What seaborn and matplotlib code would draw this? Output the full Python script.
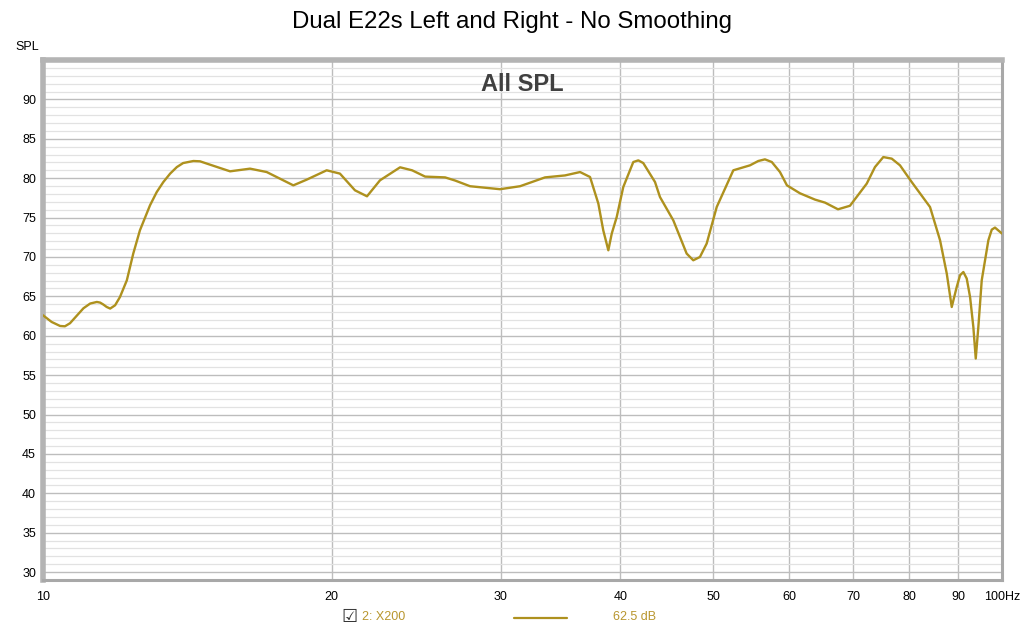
import numpy as np
import pandas as pd
import matplotlib
matplotlib.use("Agg")
import matplotlib.pyplot as plt
from matplotlib.lines import Line2D
from matplotlib.ticker import FixedLocator, MultipleLocator
import seaborn as sns

# ---- data ----
freq_hz = [10.0, 10.21, 10.42, 10.54, 10.67, 11.02, 11.20, 11.38, 11.47, 11.56,
           11.65, 11.75, 11.89, 12.03, 12.23, 12.42, 12.62, 12.93, 13.14, 13.35,
           13.57, 13.79, 14.00, 14.35, 14.58, 14.82, 15.67, 16.44, 17.11, 18.24,
           18.84, 19.76, 20.40, 21.15, 21.77, 22.46, 23.57, 24.26, 25.03, 26.26,
           26.90, 27.88, 29.96, 31.44, 33.38, 35.02, 36.31, 37.19, 37.94, 38.39,
           38.86, 39.18, 39.65, 40.28, 41.26, 41.76, 42.26, 43.47, 43.99, 45.42,
           46.90, 47.65, 48.42, 49.21, 50.41, 52.46, 54.60, 55.70, 56.60, 57.54,
           58.68, 59.67, 61.57, 63.83, 65.38, 67.45, 69.42, 72.27, 73.71, 75.20,
           76.74, 78.28, 80.51, 84.13, 86.18, 87.58, 88.63, 89.70, 90.42, 91.14,
           91.88, 92.62, 93.35, 93.89, 94.48, 95.25, 96.78, 97.57, 98.33, 100.0]
spl_db = [62.6, 61.75, 61.24, 61.2, 61.59, 63.49, 64.09, 64.29, 64.21, 63.96,
          63.66, 63.45, 63.87, 64.92, 67.04, 70.43, 73.38, 76.56, 78.24, 79.51,
          80.58, 81.41, 81.92, 82.18, 82.14, 81.85, 80.87, 81.21, 80.78, 79.09,
          79.82, 81.0, 80.58, 78.46, 77.70, 79.73, 81.38, 81.0, 80.2, 80.1,
          79.7, 78.98, 78.6, 78.98, 80.1, 80.35, 80.78, 80.15, 76.77, 73.38,
          70.85, 72.97, 75.07, 78.88, 82.05, 82.26, 81.92, 79.51, 77.61, 74.65,
          70.43, 69.58, 70.0, 71.70, 76.34, 81.0, 81.63, 82.18, 82.39, 82.05,
          80.78, 79.09, 78.08, 77.28, 76.9, 76.05, 76.5, 79.31, 81.41, 82.68,
          82.48, 81.63, 79.51, 76.34, 72.12, 67.89, 63.65, 66.19, 67.68, 68.09,
          67.26, 64.92, 61.12, 57.11, 61.12, 67.04, 72.12, 73.47, 73.73, 72.97]

x_ticks = [10, 20, 30, 40, 50, 60, 70, 80, 90, 100]
x_tick_labels = ["10", "20", "30", "40", "50", "60", "70", "80", "90", "100Hz"]
y_ticks = [30, 35, 40, 45, 50, 55, 60, 65, 70, 75, 80, 85, 90]

title = "Dual E22s Left and Right - No Smoothing"
inner_title = "All SPL"
series_name = "2: X200"
series_value = "62.5 dB"

LINE_COLOR = "#AE911E"
TEXT_COLOR = "#B8962E"

sns.set_theme(style="white")
plt.rcParams["font.family"] = ["Liberation Sans", "DejaVu Sans"]

fig = plt.figure(figsize=(10.24, 6.32), dpi=100)
ax = fig.add_axes([43 / 1024, 1 - 580 / 632, (1002 - 43) / 1024, (580 - 60) / 632])

df = pd.DataFrame({"freq": freq_hz, "spl": spl_db})
sns.lineplot(data=df, x="freq", y="spl", ax=ax, color=LINE_COLOR, linewidth=1.7,
             estimator=None, sort=True, zorder=5)
for ln in ax.get_lines():
    ln.set_solid_joinstyle("round")
    ln.set_solid_capstyle("round")

ax.set_xscale("log")
ax.set_xlim(10, 100)
ax.set_ylim(29, 95)

# gridlines
ax.yaxis.set_major_locator(FixedLocator(y_ticks))
ax.yaxis.set_minor_locator(MultipleLocator(1))
ax.xaxis.set_major_locator(FixedLocator(x_ticks))
ax.xaxis.set_minor_locator(FixedLocator([]))
ax.set_xticklabels(x_tick_labels)
ax.grid(which="major", axis="both", color="#bdbdbd", linewidth=1.0)
ax.grid(which="minor", axis="y", color="#e2e2e2", linewidth=0.9)
ax.set_axisbelow(True)

ax.tick_params(axis="both", which="both", length=0, labelsize=9, colors="#000000")
ax.tick_params(axis="x", pad=8)
ax.tick_params(axis="y", pad=5)
ax.set_xlabel("")
ax.set_ylabel("")

# frame
for side, lw, col in [("left", 4, "#b4b4b4"), ("top", 4, "#b4b4b4"),
                      ("right", 2.2, "#a8a8a8"), ("bottom", 2.2, "#a8a8a8")]:
    ax.spines[side].set_visible(True)
    ax.spines[side].set_linewidth(lw)
    ax.spines[side].set_color(col)

ax.text(0.5, 0.975, inner_title, transform=ax.transAxes, ha="center", va="top",
        fontsize=17, fontweight="bold", color="#404040", zorder=6)

fig.text(0.5, 1 - 22 / 632, title, ha="center", va="center", fontsize=17.3, color="#000000")
fig.text(27 / 1024, 1 - 47 / 632, "SPL", ha="center", va="center", fontsize=9, color="#000000")

# legend row at bottom
fig.text(349 / 1024, 1 - 617 / 632, "\u2611", ha="center", va="center", fontsize=13,
         color="#303030", family=["DejaVu Sans"])
fig.text(362 / 1024, 1 - 617 / 632, series_name, ha="left", va="center", fontsize=9,
         color=TEXT_COLOR)
fig.add_artist(Line2D([514 / 1024, 567 / 1024], [1 - 618 / 632, 1 - 618 / 632],
                      transform=fig.transFigure, color=LINE_COLOR, linewidth=1.6))
fig.text(613 / 1024, 1 - 617 / 632, series_value, ha="left", va="center", fontsize=9,
         color=TEXT_COLOR)

fig.savefig("out.png", dpi=100)
